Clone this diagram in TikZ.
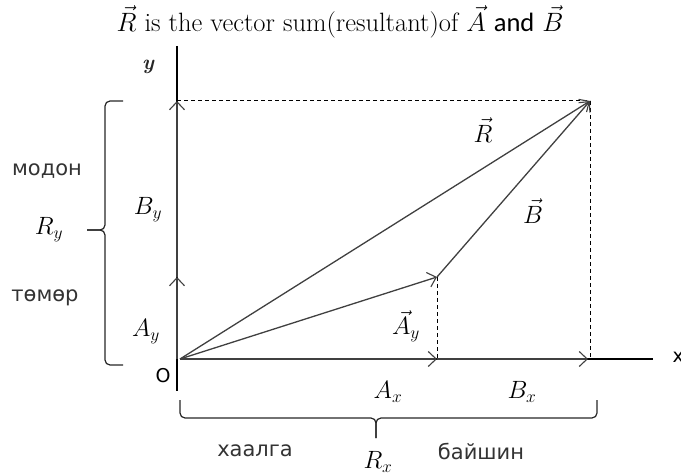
\documentclass[tikz,border=0pt]{standalone}
\usepackage{fix-cm}
\usepackage{fontspec}
\usetikzlibrary{arrows.meta}
\newfontfamily\cyrfont{DejaVu Sans}
\newfontfamily\calfont{Carlito}
\begin{document}
\begin{tikzpicture}[x=1pt,y=-1pt,
  vec/.style={draw=black!75,line width=1.3pt,-{Straight Barb[length=8pt,width=15pt,line width=1.1pt]}},
  axis/.style={draw=black,line width=1.2pt},
  guide/.style={draw=black,line width=1pt,dash pattern=on 4pt off 3pt},
  brk/.style={draw=black!85,line width=1.2pt,rounded corners=5pt},
  cyr/.style={font=\cyrfont\fontsize{21}{24}\selectfont,text=black!80},
  mlab/.style={font=\fontsize{25}{28}\selectfont},
  ttl/.style={font=\fontsize{26.5}{30}\selectfont}]
\useasboundingbox (0,0) rectangle (681,476);
% key points
\coordinate (O) at (180,359);
\coordinate (Ytop) at (177,46);
\coordinate (Ybot) at (177,391);
\coordinate (Yo) at (177,359);
\coordinate (Ay) at (177,277);
\coordinate (By) at (177,101);
\coordinate (Atip) at (437,277);
\coordinate (Rtip) at (590,101);
\coordinate (Ax) at (437,359);
\coordinate (Bx) at (588,359);
\coordinate (Xend) at (653,359);
% axes
\draw[axis] (Ytop) -- (Ybot);
\draw[axis] (O) -- (Xend);
\draw[vec] (Yo) -- (Ay);
\draw[vec] (Ay) -- (By);
\draw[vec] (O) -- (Ax);
\draw[vec] (Ax) -- (Bx);
% guides
\draw[guide] (By) -- (Rtip);
\draw[guide] (Rtip) -- (Rtip |- Bx);
\draw[guide] (Atip) -- (Ax);
% vectors
\draw[vec] (O) -- (Atip);
\draw[vec] (Atip) -- (Rtip);
\draw[vec] (O) -- (Rtip);
% brackets
\coordinate (Lt) at (123,101);
\coordinate (Lb) at (123,365);
\coordinate (Lm) at (87,230);
\draw[brk] (Lt) -- (105,101) -- (105,230) -- (Lm);
\draw[brk] (Lm) -- (105,230) -- (105,365) -- (Lb);
\coordinate (Bl) at (180,400);
\coordinate (Br) at (597,400);
\coordinate (Bm) at (376,438);
\draw[brk] (Bl) -- (180,418) -- (376,418) -- (Bm);
\draw[brk] (Bm) -- (376,418) -- (597,418) -- (Br);
% labels
\node[ttl] (title) at (340,22) {$\vec{R}$ is the vector sum(resultant)of $\vec{A}$ {\calfont and} $\vec{B}$};
\node[font=\fontsize{21}{24}\selectfont\bfseries\itshape,text=black!85] (ylab) at (148,67) {y};
\node[font=\cyrfont\fontsize{19}{22}\selectfont] (olab) at (163,376) {O};
\node[font=\cyrfont\fontsize{19}{22}\selectfont,anchor=west] (xlab) at (669,357) {x};
\node[cyr] (modon) at (47,171) {модон};
\node[mlab] (Rylab) at (49,230) {$R_y$};
\node[cyr] (temer) at (45,298) {төмөр};
\node[mlab] (Bylab) at (148,210) {$B_y$};
\node[mlab] (Aylab) at (146,332) {$A_y$};
\node[mlab] (Avlab) at (406,326) {$\vec{A}_y$};
\node[mlab] (Rvlab) at (483,130) {$\vec{R}$};
\node[mlab] (Bvlab) at (533,211) {$\vec{B}$};
\node[mlab] (Axlab) at (388,392) {$A_x$};
\node[mlab] (Bxlab) at (522,392) {$B_x$};
\node[cyr] (haalga) at (255,451) {хаалга};
\node[cyr] (baishin) at (481,451) {байшин};
\node[mlab] (Rxlab) at (378,462) {$R_x$};
\end{tikzpicture}
\end{document}
